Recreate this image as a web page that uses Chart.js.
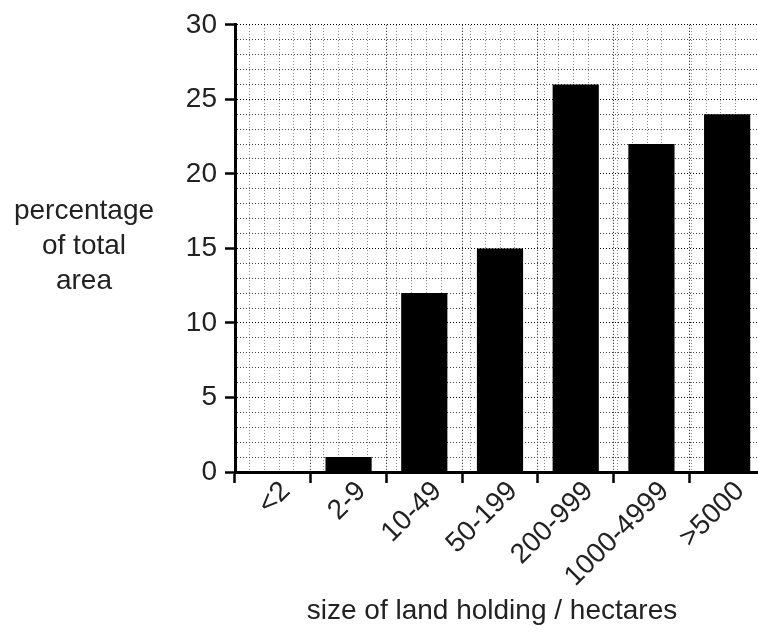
<!DOCTYPE html>
<html>
<head>
<meta charset="utf-8">
<script src="https://cdn.jsdelivr.net/npm/chart.js@4.4.1/dist/chart.umd.min.js"></script>
<style>
    body { margin: 0; overflow: hidden; background: white; }
    #wrap { position: relative; width: 758px; height: 637px; overflow: hidden; }
    #myChart { position: absolute; left: 0; top: 0; }
    .lbl {
        position: absolute;
        font-family: 'Liberation Sans', Arial, sans-serif;
        font-size: 28px;
        color: #222;
        text-align: center;
        white-space: nowrap;
    }
</style>
</head>
<body>
<div id="wrap">
    <canvas id="myChart" width="765" height="637"></canvas>
    <div class="lbl" id="yTitle" style="left: 4px; width: 160px; top: 192px; line-height: 35px;">percentage<br>of total<br>area</div>
    <div class="lbl" id="xTitle" style="left: 292px; width: 400px; top: 592px; line-height: 35px;">size of land holding / hectares</div>
</div>
<script>
const categories = ['<2', '2-9', '10-49', '50-199', '200-999', '1000-4999', '>5000'];
const percentages = [0, 1, 12, 15, 26, 22, 24];
const yMin = 0;
const yMax = 30;
const yMajorStep = 5;

const font = { family: "'Liberation Sans', Arial, sans-serif", size: 28 };
const canvas = document.getElementById('myChart');

// основная линия сетки или нет
function isMajorY(ctx) {
    return ctx.tick ? ctx.tick.value % yMajorStep === 0 : true;
}
function isWholeX(ctx) {
    if (!ctx.tick) return true;
    const v = ctx.tick.value;
    return Math.abs(v - Math.round(v)) < 1e-6;
}

const options = {
    responsive: false,
    animation: false,
    devicePixelRatio: 1,
    layout: {
        padding: { top: 17, right: 0, bottom: 0, left: 0 }
    },
    plugins: {
        legend: { display: false },
        tooltip: { enabled: false }
    },
    scales: {
        x: {
            type: 'category',
            position: 'bottom',
            offset: true,
            grid: {
                offset: true,
                color: '#111',
                lineWidth: 1,
                drawTicks: true,
                tickLength: 11,
                tickColor: '#000',
                tickWidth: 2.5
            },
            border: { display: true, color: '#000', width: 3, dash: [1, 2] },
            ticks: {
                font: font,
                color: '#222',
                maxRotation: 45,
                minRotation: 45,
                autoSkip: false,
                padding: -8,
                labelOffset: 13
            },
            afterFit: scale => {
                scale.height = 165; // ось X на y = 472
            }
        },
        // мелкая сетка по X (5 делений на категорию)
        xm: {
            type: 'linear',
            position: 'top',
            min: 0,
            max: categories.length,
            grid: {
                drawTicks: false,
                lineWidth: 1,
                color: ctx => (isWholeX(ctx) ? 'rgba(0,0,0,0)' : '#8a8a8a')
            },
            border: { display: false, dash: [1, 2] },
            ticks: { display: false, stepSize: 0.2, maxTicksLimit: 100 }
        },
        y: {
            type: 'linear',
            min: yMin,
            max: yMax,
            grid: {
                lineWidth: 1,
                color: ctx => (isMajorY(ctx) ? '#000' : '#444'),
                drawTicks: true,
                tickLength: 10,
                tickWidth: 2.5,
                tickColor: ctx => (isMajorY(ctx) ? '#000' : 'rgba(0,0,0,0)')
            },
            border: { display: true, color: '#000', width: 3, dash: [1, 2] },
            ticks: {
                stepSize: 1,
                maxTicksLimit: 100,
                autoSkip: false,
                font: font,
                color: '#222',
                padding: 8,
                callback: value => (value % yMajorStep === 0 ? value : '')
            },
            afterFit: scale => {
                scale.width = 235;
            }
        }
    }
};

const chart = new Chart(canvas, {
    type: 'bar',
    data: {
        labels: categories,
        datasets: [{
            data: percentages,
            backgroundColor: '#000',
            borderWidth: 0,
            barPercentage: 0.61,
            categoryPercentage: 1
        }]
    },
    options: options
});
</script>
</body>
</html>
